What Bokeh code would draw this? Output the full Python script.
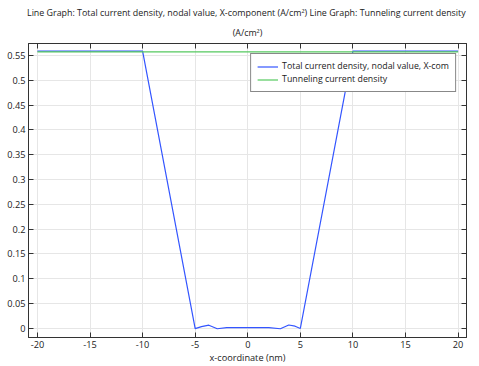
from bokeh.plotting import figure
from bokeh.models import FixedTicker, LinearAxis, Range1d, Legend, LegendItem, Title
from bokeh.embed import file_html
from bokeh.resources import INLINE

# Data
total_x = [-20, -10, -5.0, -4.4, -3.7, -2.9, -2.0, 0.0, 2.0, 3.1, 3.9, 4.5, 5.0, 10, 20]
total_y = [0.559, 0.559, -0.0008, 0.003, 0.0060, -0.0012, 0.0012, 0.0012, 0.0012, -0.0012, 0.0064, 0.004, -0.0005, 0.559, 0.559]
tunnel_x = [-20, 20]
tunnel_y = [0.5575, 0.5575]
x_ticks = [-20, -15, -10, -5, 0, 5, 10, 15, 20]
x_tick_labels = ["-20", "-15", "-10", "-5", "0", "5", "10", "15", "20"]
y_ticks = [0, 0.05, 0.1, 0.15, 0.2, 0.25, 0.3, 0.35, 0.4, 0.45, 0.5, 0.55]
y_tick_labels = ["0", "0.05", "0.1", "0.15", "0.2", "0.25", "0.3", "0.35", "0.4", "0.45", "0.5", "0.55"]
title_line1 = "Line Graph: Total current density, nodal value, X-component (A/cm\u00b2)  Line Graph: Tunneling current density"
title_line2 = "(A/cm\u00b2)"
x_label = "x-coordinate (nm)"
legend_labels = ["Total current density, nodal value, X-com", "Tunneling current density"]

FONT = "Open Sans"
FS = "9.2px"
TFS = "8.9px"
TXT = "#222222"

p = figure(width=471, height=366, output_backend="svg", toolbar_location=None,
           x_range=Range1d(-20.85, 20.8), y_range=Range1d(-0.0188, 0.5743),
           min_border_left=28, min_border_right=5, min_border_top=43, min_border_bottom=25)

p.title.visible = False

# top and right frame axes (ticks only), added first so they sit next to the frame
top = LinearAxis(ticker=FixedTicker(ticks=x_ticks), major_label_text_font_size="0px",
                 major_tick_in=5, major_tick_out=0, minor_tick_in=0, minor_tick_out=0,
                 axis_line_color="#333333", major_tick_line_color="#333333", major_label_standoff=0)
right = LinearAxis(ticker=FixedTicker(ticks=y_ticks), major_label_text_font_size="0px",
                   major_tick_in=5, major_tick_out=0, minor_tick_in=0, minor_tick_out=0,
                   axis_line_color="#333333", major_tick_line_color="#333333", major_label_standoff=0)
top.major_label_overrides = {t: "" for t in x_ticks}
right.major_label_overrides = {t: "" for t in y_ticks}
p.add_layout(top, "above")
p.add_layout(right, "right")

t2 = Title(text=title_line2, align="center", text_font=FONT, text_font_size=TFS,
           text_font_style="normal", text_color=TXT, offset=-5, standoff=10)
t1 = Title(text=title_line1, align="center", text_font=FONT, text_font_size=TFS,
           text_font_style="normal", text_color=TXT, offset=-6, standoff=0)
p.add_layout(t2, "above")
p.add_layout(t1, "above")

r1 = p.line(total_x, total_y, line_color="#3355ff", line_width=1.2)
r2 = p.line(tunnel_x, tunnel_y, line_color="#55c95f", line_width=1.2)

xa = p.below[0]
ya = p.left[0]
for ax in [xa, ya]:
    ax.major_tick_in = 5
    ax.major_tick_out = 0
    ax.minor_tick_in = 0
    ax.minor_tick_out = 0
    ax.major_label_text_font = FONT
    ax.major_label_text_font_size = FS
    ax.major_label_text_color = TXT
    ax.axis_line_color = "#333333"
    ax.major_tick_line_color = "#333333"
    ax.major_label_standoff = 3
xa.ticker = FixedTicker(ticks=x_ticks)
xa.major_label_overrides = {t: l for t, l in zip(x_ticks, x_tick_labels)}
xa.axis_label = x_label
xa.axis_label_text_font = FONT
xa.axis_label_text_font_size = FS
xa.axis_label_text_font_style = "normal"
xa.axis_label_text_color = TXT
xa.axis_label_standoff = 0
ya.ticker = FixedTicker(ticks=y_ticks)
ya.major_label_overrides = {t: l for t, l in zip(y_ticks, y_tick_labels)}

p.xgrid.ticker = FixedTicker(ticks=x_ticks)
p.ygrid.ticker = FixedTicker(ticks=y_ticks)
p.grid.grid_line_color = "#e6e6e6"
p.outline_line_color = "#333333"

legend = Legend(items=[LegendItem(label=legend_labels[0], renderers=[r1]),
                       LegendItem(label=legend_labels[1], renderers=[r2])],
                location="top_right", label_text_font=FONT, label_text_font_size="8.8px",
                label_text_color=TXT, border_line_color="#111111", border_line_width=1,
                background_fill_alpha=1, glyph_width=21, glyph_height=11, label_height=11,
                label_standoff=4, padding=6, spacing=1, margin=10)
p.add_layout(legend)

open("out.html", "w").write(file_html(p, INLINE))
